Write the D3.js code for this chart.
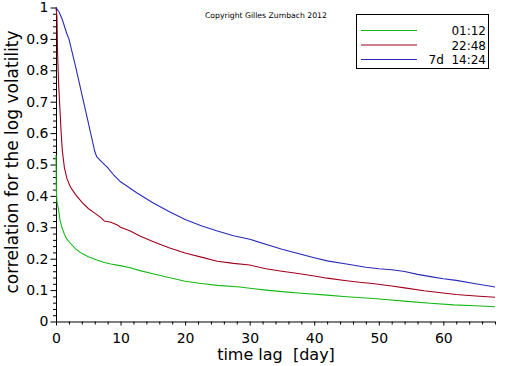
<!DOCTYPE html>
<html><head><meta charset="utf-8">
<script src="https://cdn.jsdelivr.net/npm/d3@7"></script>
<style>
html,body{margin:0;padding:0;background:#fff;}
svg{display:block;font-family:"DejaVu Sans",sans-serif;}
</style></head>
<body>
<svg id="c" width="512" height="366"></svg>
<script>
// Data (day, correlation)
const seriesNames = ["01:12", "22:48", "7d  14:24"];
const seriesColors = ["#14b814", "#a0001e", "#2a2ab8"];
const green = [[0,0.53],[0.05,0.42],[0.15,0.38],[0.36,0.36],[0.6,0.325],[0.88,0.302],[1.3,0.278],[1.66,0.263],[2.2,0.25],[3,0.232],[3.7,0.221],[4.2,0.215],[5,0.206],[6.3,0.196],[7.5,0.188],[8.5,0.183],[9.9,0.178],[11.5,0.171],[13,0.162],[15,0.152],[17.5,0.14],[20,0.128],[22.5,0.121],[25,0.115],[28.5,0.11],[30,0.106],[32.5,0.1],[35,0.095],[38,0.09],[42,0.084],[45,0.079],[48.7,0.074],[51,0.07],[54.4,0.064],[58,0.058],[61.6,0.053],[65,0.05],[68,0.047]];
const red = [[0,1.0],[0.15,0.97],[0.25,0.85],[0.4,0.76],[0.6,0.68],[0.8,0.6],[1.0,0.54],[1.3,0.49],[1.7,0.455],[2.2,0.43],[3,0.405],[4,0.38],[5,0.36],[6,0.345],[7,0.33],[7.5,0.32],[8.5,0.316],[9.5,0.307],[10,0.3],[11.5,0.288],[13,0.272],[15,0.255],[17.5,0.235],[20,0.218],[22.5,0.205],[25,0.192],[27.5,0.185],[30,0.18],[32.5,0.168],[35,0.16],[37.5,0.153],[40,0.145],[42,0.138],[45,0.13],[47,0.125],[49,0.121],[52,0.113],[54,0.107],[57,0.098],[60,0.091],[62,0.086],[65,0.081],[68,0.077]];
const blue = [[0,1.0],[0.5,0.985],[1,0.96],[1.65,0.918],[2,0.9],[3,0.815],[4,0.724],[5,0.633],[6,0.542],[6.3,0.525],[7,0.51],[8,0.49],[9,0.465],[10,0.445],[12.5,0.41],[15,0.378],[17.5,0.35],[20,0.325],[22.5,0.305],[25,0.288],[27.5,0.273],[30,0.262],[35,0.23],[40,0.203],[42,0.193],[45,0.183],[48,0.173],[50,0.168],[52,0.165],[54,0.159],[56,0.15],[58,0.143],[60,0.136],[62,0.131],[65,0.12],[68,0.11]];
const allSeries = [green, red, blue];
const xTicks = [0,10,20,30,40,50,60];
const yTicks = [0,0.1,0.2,0.3,0.4,0.5,0.6,0.7,0.8,0.9,1];
const yTickLabels = ["0","0.1","0.2","0.3","0.4","0.5","0.6","0.7","0.8","0.9","1"];
const xLabel = "time lag  [day]";
const yLabel = "correlation for the log volatility";
const copyright = "Copyright Gilles Zumbach 2012";

const svg = d3.select("#c");
const x = d3.scaleLinear().domain([0,68]).range([56,495]);
const y = d3.scaleLinear().domain([0,1]).range([321.5,7.5]);

// minor ticks
const xMinor = d3.range(0,69,2).filter(d=>d%10!==0);
const yMinor = d3.range(0,51).map(d=>d/50).filter((d,i)=>i%5!==0);

const xAxis = svg.append("g").attr("transform","translate(0,321.5)")
  .call(d3.axisBottom(x).tickValues(xTicks).tickSize(4).tickPadding(8).tickFormat(d3.format("d")));
svg.append("g").attr("transform","translate(0,321.5)")
  .call(d3.axisBottom(x).tickValues(xMinor).tickSize(3).tickFormat(""))
  .call(g=>g.select(".domain").remove());
const yAxis = svg.append("g").attr("transform","translate(56.5,0)")
  .call(d3.axisLeft(y).tickValues(yTicks).tickSize(6).tickPadding(2).tickFormat((d,i)=>yTickLabels[i]));
svg.append("g").attr("transform","translate(56.5,0)")
  .call(d3.axisLeft(y).tickValues(yMinor).tickSize(3.5).tickFormat(""))
  .call(g=>g.select(".domain").remove());

svg.selectAll(".domain").attr("stroke","#000");
xAxis.select(".domain").attr("d", `M${x(0)},0.5H${x(68)}`);
yAxis.select(".domain").attr("d", `M0,${y(1)}V${y(0)}`);
svg.selectAll(".tick line").attr("stroke","#000");
svg.selectAll(".tick text").attr("font-family","DejaVu Sans").attr("font-size",14).attr("fill","#000");

// lines
const line = d3.line().x(d=>x(d[0])).y(d=>y(d[1]));
allSeries.forEach((s,i)=>{
  svg.append("path").datum(s).attr("d",line).attr("fill","none")
    .attr("stroke",seriesColors[i]).attr("stroke-width",1.1);
});

// axis labels
svg.append("text").attr("x",276).attr("y",360).attr("text-anchor","middle")
  .attr("font-size",16).attr("fill","#000").style("white-space","pre").text(xLabel);
svg.append("text").attr("transform","translate(18,162) rotate(-90)").attr("text-anchor","middle")
  .attr("font-size",17).attr("fill","#000").text(yLabel);

// copyright
svg.append("text").attr("x",205).attr("y",18).attr("font-size",7.7).attr("fill","#000").text(copyright);

// legend
svg.append("rect").attr("x",356.5).attr("y",14.5).attr("width",132).attr("height",54)
  .attr("fill","#fff").attr("stroke","#000");
const ly = [30.5,45,59.5];
seriesNames.forEach((n,i)=>{
  svg.append("line").attr("x1",361).attr("x2",417).attr("y1",ly[i]).attr("y2",ly[i])
    .attr("stroke",seriesColors[i]).attr("stroke-width",1.1);
  svg.append("text").attr("x",486).attr("y",ly[i]+4.5).attr("text-anchor","end")
    .attr("font-size",12).attr("fill","#000").style("white-space","pre").text(n);
});
</script>
</body></html>
